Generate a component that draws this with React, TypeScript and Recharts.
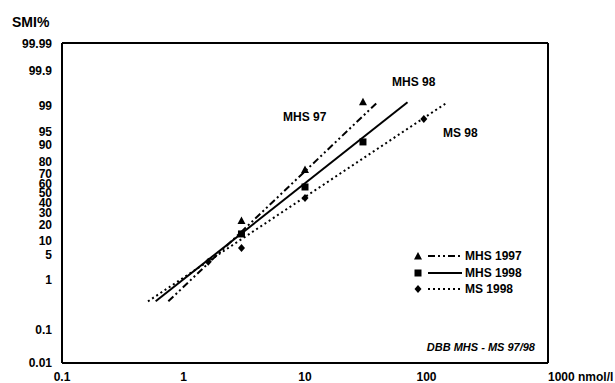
import { ComposedChart, Line, Scatter, XAxis, YAxis, ReferenceLine } from "recharts"

// probability axis labels (SMI %) and dose ticks (nmol/l)
const smiTicks = [0.01, 0.1, 1, 5, 10, 20, 30, 40, 50, 60, 70, 80, 90, 95, 99, 99.9, 99.99]
const doseTicks = [0.1, 1, 10, 100, 1000]

// measured points
const mhs97Dose = [3, 10, 30]
const mhs97Smi = [22.7, 73.1, 99.2]
const mhs98Dose = [3, 10, 30]
const mhs98Smi = [13.7, 56.4, 91.4]
const ms98Dose = [1.6, 3, 10, 95]
const ms98Smi = [3.3, 7.1, 44.7, 97.6]

// fitted lines (dose at the lower and upper end of each line)
const fitSmi = [0.4, 99.2]
const mhs97FitDose = [0.75, 39.5]
const mhs98FitDose = [0.59, 69.8]
const ms98FitDose = [0.51, 149]

const FONT = '"Liberation Sans", Arial, sans-serif'

// inverse normal (Acklam)
function probit(p: number) {
  const a = [-39.69683028665376, 220.9460984245205, -275.9285104469687, 138.357751867269, -30.66479806614716, 2.506628277459239]
  const b = [-54.47609879822406, 161.5858368580409, -155.6989798598866, 66.80131188771972, -13.28068155288572]
  const c = [-0.007784894002430293, -0.3223964580411365, -2.400758277161838, -2.549671348616395, 4.374664141464968, 2.938163982698783]
  const d = [0.007784695709041462, 0.3224671290700398, 2.445134137142996, 3.754408661907416]
  const pl = 0.02425
  if (p < pl) {
    const q = Math.sqrt(-2 * Math.log(p))
    return (((((c[0] * q + c[1]) * q + c[2]) * q + c[3]) * q + c[4]) * q + c[5]) / ((((d[0] * q + d[1]) * q + d[2]) * q + d[3]) * q + 1)
  }
  if (p > 1 - pl) {
    const q = Math.sqrt(-2 * Math.log(1 - p))
    return -(((((c[0] * q + c[1]) * q + c[2]) * q + c[3]) * q + c[4]) * q + c[5]) / ((((d[0] * q + d[1]) * q + d[2]) * q + d[3]) * q + 1)
  }
  const q = p - 0.5
  const r = q * q
  return ((((((a[0] * r + a[1]) * r + a[2]) * r + a[3]) * r + a[4]) * r + a[5]) * q) / (((((b[0] * r + b[1]) * r + b[2]) * r + b[3]) * r + b[4]) * r + 1)
}

// the paper is probit between 1 and 99 %, the tails are squeezed/stretched by hand
const tailPct = [0.01, 0.1, 1, 99, 99.9, 99.99]
const tailAxis = [-4.545, -3.663, -2.326, 2.326, 3.262, 3.984]

function smiAxis(pct: number) {
  const v = probit(pct / 100)
  const zs = tailPct.map((p) => probit(p / 100))
  if (v >= zs[2] && v <= zs[3]) return v
  const seg = v < zs[2] ? (v < zs[1] ? 0 : 1) : v < zs[4] ? 3 : 4
  const t = (v - zs[seg]) / (zs[seg + 1] - zs[seg])
  return tailAxis[seg] + t * (tailAxis[seg + 1] - tailAxis[seg])
}

const toRows = (dose: number[], smi: number[]) => dose.map((x, i) => ({ x, y: smiAxis(smi[i]) }))

const yTicks = smiTicks.map(smiAxis)
const yDomain = [-4.545, 4.011]
const tickLabel = (v: number) => {
  let best = 0
  yTicks.forEach((t, i) => {
    if (Math.abs(t - v) < Math.abs(yTicks[best] - v)) best = i
  })
  return String(smiTicks[best])
}

const DASH_DOT = "7 3 2 3 2 3"
const DOTTED = "2 3"

function Triangle({ cx, cy }: any) {
  return <path d={`M${cx},${cy - 4.5}L${cx + 4},${cy + 3}L${cx - 4},${cy + 3}Z`} fill="#000" />
}
function Square({ cx, cy }: any) {
  return <rect x={cx - 3.5} y={cy - 3.5} width={7} height={7} fill="#000" />
}
function Diamond({ cx, cy }: any) {
  return <path d={`M${cx},${cy - 4}L${cx + 3.5},${cy}L${cx},${cy + 4}L${cx - 3.5},${cy}Z`} fill="#000" />
}

function DoseTick({ x, y, payload }: any) {
  const last = payload.value === 1000
  return (
    <text x={x} y={y + 18} textAnchor={last ? "start" : "middle"} fontFamily={FONT} fontWeight="bold" fontSize={12} fill="#000">
      {last ? "1000 nmol/l" : String(payload.value)}
    </text>
  )
}

const legendRows = [
  { name: "MHS 1997", dash: DASH_DOT, mark: "tri" },
  { name: "MHS 1998", dash: undefined, mark: "sq" },
  { name: "MS 1998", dash: DOTTED, mark: "dia" },
]

const textStyle: React.CSSProperties = { position: "absolute", fontFamily: FONT, fontWeight: "bold", fontSize: 12, whiteSpace: "nowrap", lineHeight: "14px" }

export default function App() {
  return (
    <div style={{ position: "relative", width: 615, height: 383 }}>
      <style>{"body{margin:0}"}</style>
      <ComposedChart width={615} height={383} margin={{ top: 43, right: 67, bottom: 0, left: 0 }}>
        <XAxis
          dataKey="x"
          type="number"
          scale="log"
          domain={[0.1, 1000]}
          ticks={doseTicks}
          interval={0}
          allowDataOverflow
          tickLine={false}
          tickSize={0}
          tickMargin={0}
          height={20}
          axisLine={{ stroke: "#000", strokeWidth: 2 }}
          tick={<DoseTick />}
        />
        <YAxis
          type="number"
          domain={yDomain}
          ticks={yTicks}
          interval={0}
          allowDataOverflow
          width={62}
          tickLine={false}
          tickSize={0}
          tickMargin={10}
          tickFormatter={tickLabel}
          axisLine={{ stroke: "#000", strokeWidth: 2 }}
          tick={{ fill: "#000", fontFamily: FONT, fontWeight: "bold", fontSize: 12 }}
        />
        <ReferenceLine y={yDomain[1]} stroke="#000" strokeWidth={2} />
        <ReferenceLine x={1000} stroke="#000" strokeWidth={2} />
        <Line data={toRows(mhs97FitDose, fitSmi)} dataKey="y" stroke="#000" strokeWidth={2} strokeDasharray={DASH_DOT} dot={false} isAnimationActive={false} />
        <Line data={toRows(mhs98FitDose, fitSmi)} dataKey="y" stroke="#000" strokeWidth={2} dot={false} isAnimationActive={false} />
        <Line data={toRows(ms98FitDose, fitSmi)} dataKey="y" stroke="#000" strokeWidth={2} strokeDasharray={DOTTED} dot={false} isAnimationActive={false} />
        <Scatter data={toRows(mhs97Dose, mhs97Smi)} dataKey="y" shape={<Triangle />} isAnimationActive={false} />
        <Scatter data={toRows(mhs98Dose, mhs98Smi)} dataKey="y" shape={<Square />} isAnimationActive={false} />
        <Scatter data={toRows(ms98Dose, ms98Smi)} dataKey="y" shape={<Diamond />} isAnimationActive={false} />
      </ComposedChart>

      <div style={{ ...textStyle, fontSize: 14, lineHeight: "16px", left: 12, top: 14 }}>SMI%</div>
      <div style={{ ...textStyle, left: 283, top: 110 }}>MHS 97</div>
      <div style={{ ...textStyle, left: 392, top: 75 }}>MHS 98</div>
      <div style={{ ...textStyle, left: 443, top: 126 }}>MS 98</div>
      <div style={{ ...textStyle, fontSize: 11, fontStyle: "italic", right: 80, top: 340 }}>DBB MHS - MS 97/98</div>

      <div style={{ position: "absolute", left: 410, top: 248 }}>
        {legendRows.map((r) => (
          <div key={r.name} style={{ display: "flex", alignItems: "center", height: 16.5 }}>
            <svg width={55} height={12}>
              {r.mark === "tri" && <Triangle cx={8} cy={6.5} />}
              {r.mark === "sq" && <Square cx={8} cy={6} />}
              {r.mark === "dia" && <Diamond cx={8} cy={6} />}
              <line x1={18} x2={52} y1={6} y2={6} stroke="#000" strokeWidth={2} strokeDasharray={r.dash} />
            </svg>
            <span style={{ fontFamily: FONT, fontWeight: "bold", fontSize: 12 }}>{r.name}</span>
          </div>
        ))}
      </div>
    </div>
  )
}
